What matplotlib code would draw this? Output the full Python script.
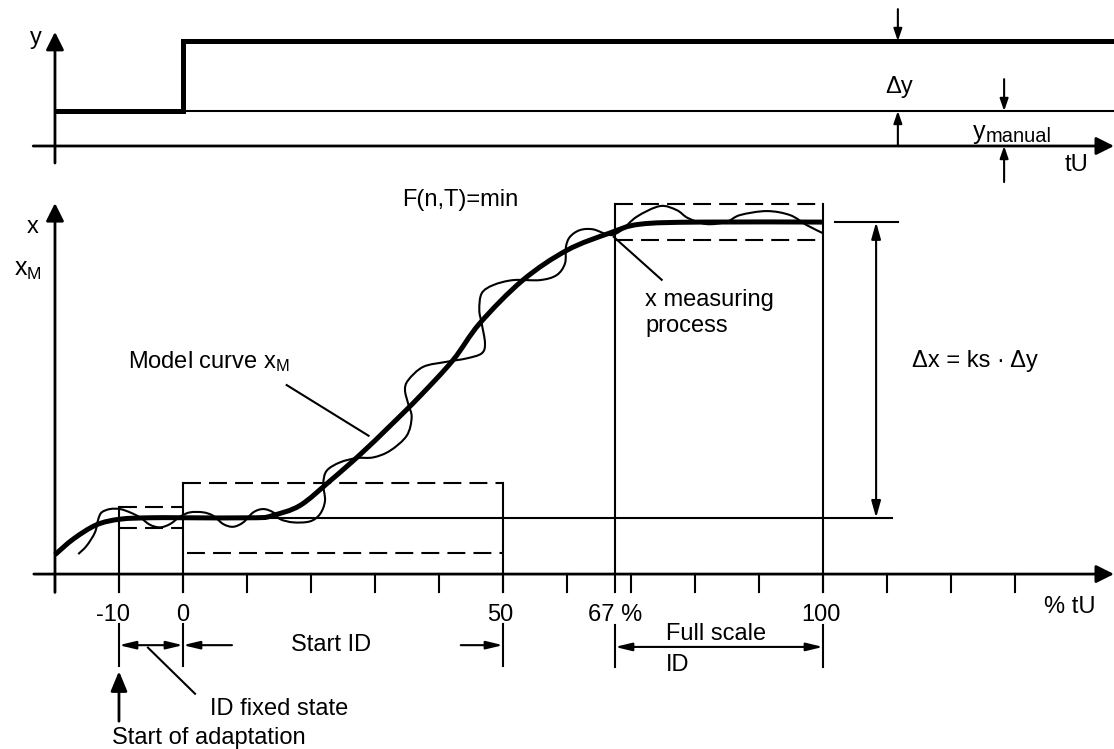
import matplotlib.pyplot as plt
from matplotlib.path import Path
from matplotlib.patches import PathPatch

plt.rcParams['font.family'] = ['Liberation Sans', 'DejaVu Sans']
plt.rcParams['mathtext.fontset'] = 'custom'
plt.rcParams['mathtext.rm'] = 'Liberation Sans'
plt.rcParams['mathtext.it'] = 'Liberation Sans'
plt.rcParams['mathtext.default'] = 'regular'

# time axis in % of tU
ticks_pct = [-20, -10, 0, 10, 20, 30, 40, 50, 60, 70, 80, 90, 100, 110, 120, 130]
tick_labels = ['-10', '0', '50', '67 %', '100']
tick_label_pos = [-11, 0, 49.5, 67.5, 99.7]

# manipulated variable y (top panel)
y_manual = 1.0
y_step = 3.0
t_step = 0.0

# process value x (lower panel), 0 = axis, 100 = new steady state
x_start = 16.0
x_end = 100.0
tol_fixed = 3.0
tol_start = 10.0
tol_full = 5.0
t_adapt = -10.0
t_start_end = 50.0
t_full = 67.5
t_full_end = 100.0

model_t = [-20, -17.1, -13.5, -9.8, -5, 0, 11.5, 14.1, 18.3, 23, 27.7, 32.3, 37,
           42.2, 46.4, 53.1, 60, 66.7, 71.4, 80.8, 100]
model_x = [5.5, 10, 14, 15.6, 16, 16, 16, 16.7, 19.5, 26.5, 34, 42, 50.5,
           60.8, 71.3, 83.5, 92, 96.9, 99.4, 100, 100]

meas_t = [-16.36, -15.05, -13.75, -13.23, -12.70, -11.41, -9.84, -8.28, -6.72, -5.16,
          -3.59, -2.03, -0.47, 1.09, 3.17, 4.73, 6.30, 7.86, 9.42, 10.98, 12.55, 14.11,
          15.16, 17.23, 19.84, 21.41, 22.19, 21.92, 22.45, 24.53, 27.14, 29.73, 32.34,
          34.95, 35.73, 35.20, 34.69, 35.20, 37.55, 41.20, 44.33, 46.67, 47.19, 46.67,
          46.30, 46.67, 48.48, 51.61, 55.78, 58.39, 59.69, 59.84, 60.47, 62.03, 64.11,
          66.72, 68.55, 70.89, 74.53, 77.14, 78.91, 81.83, 84.95, 87.03, 91.20, 94.84,
          97.45, 100.05]
meas_x = [5.68, 8.04, 11.85, 15.63, 17.53, 18.47, 18.47, 17.53, 16.11, 14.01,
          13.27, 14.20, 16.28, 17.53, 17.53, 16.56, 14.20, 13.44, 14.69, 17.53, 18.47, 17.53,
          15.63, 14.69, 14.97, 17.05, 20.82, 25.57, 29.35, 31.73, 32.95, 33.15, 35.03,
          39.29, 44.52, 48.30, 52.27, 55.11, 58.89, 60.31, 61.28, 62.70, 65.54, 71.22,
          75.00, 79.74, 82.10, 83.52, 83.52, 84.94, 88.27, 92.98, 95.82, 97.73, 97.93,
          96.31, 97.73, 101.51, 104.55, 103.41, 101.14, 99.43, 100.09, 101.99, 103.13, 101.99,
          99.15, 96.79]

FS = 17
K = 'black'
THIN = 1.5
DASH = (0, (8.6, 3.9))


def arrow(a, p0, p1, style='-|>', hl=0.36, hw=0.125, lw=THIN):
    a.annotate('', xy=p1, xytext=p0, annotation_clip=False,
               arrowprops=dict(arrowstyle=f'{style},head_length={hl},head_width={hw}',
                               lw=lw, color=K, shrinkA=0, shrinkB=0, mutation_scale=20))


def smooth_curve(a, ts, xs, lw):
    # bezier spline through the read points (Catmull-Rom control points)
    pts = list(zip(ts, xs))
    verts = [pts[0]]
    codes = [Path.MOVETO]
    for i in range(len(pts) - 1):
        p0 = pts[i - 1] if i > 0 else pts[i]
        p1 = pts[i]
        p2 = pts[i + 1]
        p3 = pts[i + 2] if i + 2 < len(pts) else pts[i + 1]
        c1 = (p1[0] + (p2[0] - p0[0]) / 6, p1[1] + (p2[1] - p0[1]) / 6)
        c2 = (p2[0] - (p3[0] - p1[0]) / 6, p2[1] - (p3[1] - p1[1]) / 6)
        verts += [c1, c2, p2]
        codes += [Path.CURVE4] * 3
    a.add_patch(PathPatch(Path(verts, codes), fill=False, ec=K, lw=lw,
                          capstyle='butt', joinstyle='round'))


fig = plt.figure(figsize=(11.14, 7.49), dpi=100)
ax = fig.add_axes([0, 0, 1, 579 / 749])
top = fig.add_axes([0, 1 - 190 / 749, 1, 190 / 749])
for a in (ax, top):
    a.set_xlim(-28.59, 145.47)
    a.axis('off')
ax.set_ylim(-49.7, 114.8)
top.set_ylim(-1.257, 4.171)

# ---- top panel: step of y ----
arrow(top, (-20, -0.486), (-20, 3.26), hl=0.54, hw=0.27, lw=2)
arrow(top, (-23.4, 0), (145.47, 0), hl=0.54, hw=0.27, lw=2)
top.plot([0, 145.3], [y_manual, y_manual], color=K, lw=THIN)
top.plot([-20, t_step, t_step, 145.5], [y_manual, y_manual, y_step, y_step],
         color=K, lw=3.6, solid_joinstyle='miter', solid_capstyle='butt')
top.text(-23, 3.09, 'y', fontsize=FS, ha='center', va='center')

arrow(top, (111.7, 3.91), (111.7, y_step))
arrow(top, (111.7, 0), (111.7, y_manual))
top.text(111.9, 1.69, '\u0394y', fontsize=FS, ha='center', va='center')
arrow(top, (128.3, 1.91), (128.3, y_manual))
arrow(top, (128.3, -1.03), (128.3, 0))
top.text(123.4, 0.2, 'y', fontsize=FS + 1, ha='left', va='baseline')
top.text(125.4, 0.11, 'manual', fontsize=14.5, ha='left', va='baseline')
top.text(139.6, -0.54, 'tU', fontsize=FS, ha='center', va='center')

# ---- lower panel: process value x ----
arrow(ax, (-20, -5.2), (-20, 105.4), hl=0.54, hw=0.27, lw=2)
arrow(ax, (-23.3, 0), (145.47, 0), hl=0.54, hw=0.27, lw=2)
for t in ticks_pct:
    ax.plot([t, t], [0, -5.2], color=K, lw=THIN)
for lab, t in zip(tick_labels, tick_label_pos):
    ax.text(t, -11.6, lab, fontsize=FS, ha='center', va='center')
ax.text(138.6, -9.4, '% tU', fontsize=FS, ha='center', va='center')

# tolerance boxes
ax.plot([t_adapt, t_adapt], [-5.2, x_start + tol_fixed], color=K, lw=THIN)
ax.plot([t_adapt, 0], [x_start + tol_fixed] * 2, color=K, lw=THIN, ls=DASH)
ax.plot([t_adapt, 0], [x_start - tol_fixed] * 2, color=K, lw=THIN, ls=DASH)
for t in (0, t_start_end):
    ax.plot([t, t], [-5.2, x_start + tol_start], color=K, lw=THIN)
ax.plot([0, t_start_end], [x_start + tol_start] * 2, color=K, lw=THIN, ls=DASH)
ax.plot([0.6, t_start_end], [x_start - tol_start] * 2, color=K, lw=THIN, ls=DASH)
for t in (t_full, t_full_end):
    ax.plot([t, t], [-5.2, x_end + tol_full], color=K, lw=THIN)
ax.plot([t_full, t_full_end], [x_end + tol_full] * 2, color=K, lw=THIN, ls=DASH)
ax.plot([t_full, t_full_end], [x_end - tol_full] * 2, color=K, lw=THIN, ls=DASH)

# steady state levels and delta x
ax.plot([t_adapt, 110.8], [x_start, x_start], color=K, lw=THIN)
ax.plot([101.9, 111.7], [x_end, x_end], color=K, lw=THIN)
arrow(ax, (108.3, x_start), (108.3, x_end), style='<|-|>', hl=0.5, hw=0.14)
ax.text(113.9, 60.5, '\u0394x = ks \u00b7 \u0394y', fontsize=FS, ha='left', va='center')

# curves
smooth_curve(ax, meas_t, meas_x, THIN)
smooth_curve(ax, model_t, model_x, 3.6)

ax.text(43.4, 106.3, 'F(n,T)=min', fontsize=FS, ha='center', va='center')
ax.text(-23.5, 98.6, 'x', fontsize=FS, ha='center', va='center')
ax.text(-24.2, 86.4, '$x_M$', fontsize=FS + 1, ha='center', va='center')
ax.text(-8.6, 60.3, 'Model curve $x_M$', fontsize=FS, ha='left', va='center')
ax.plot([16.2, 29.0], [53.7, 39.3], color=K, lw=THIN)
ax.text(72.2, 74.2, 'x measuring\nprocess', fontsize=FS, ha='left', va='center',
        linespacing=1.2)
ax.plot([67.3, 74.8], [95.8, 83.6], color=K, lw=THIN)

# dimension lines below the axis
for t in (t_adapt, 0, t_start_end):
    ax.plot([t, t], [-14.2, -26.1], color=K, lw=THIN)
arrow(ax, (t_adapt, -20.2), (0, -20.2), style='<|-|>', hl=0.5, hw=0.12)
arrow(ax, (7.66, -20.2), (0, -20.2), hl=0.5, hw=0.12)
arrow(ax, (43.4, -20.2), (t_start_end, -20.2), hl=0.5, hw=0.12)
ax.text(23.1, -20.2, 'Start ID', fontsize=FS, ha='center', va='center')
ax.plot([-5.47, 1.88], [-20.9, -34.0], color=K, lw=THIN)
ax.text(4.2, -38.4, 'ID fixed state', fontsize=FS, ha='left', va='center')
arrow(ax, (t_adapt, -41.8), (t_adapt, -27.6), hl=0.6, hw=0.25, lw=2)
ax.text(-11.1, -46.6, 'Start of adaptation', fontsize=FS, ha='left', va='center')

for t in (t_full, t_full_end):
    ax.plot([t, t], [-14.5, -26.4], color=K, lw=THIN)
arrow(ax, (t_full, -20.7), (t_full_end, -20.7), style='<|-|>', hl=0.5, hw=0.12)
ax.text(75.5, -17.0, 'Full scale', fontsize=FS, ha='left', va='center')
ax.text(75.5, -25.9, 'ID', fontsize=FS, ha='left', va='center')

fig.savefig('out.png', dpi=100)
